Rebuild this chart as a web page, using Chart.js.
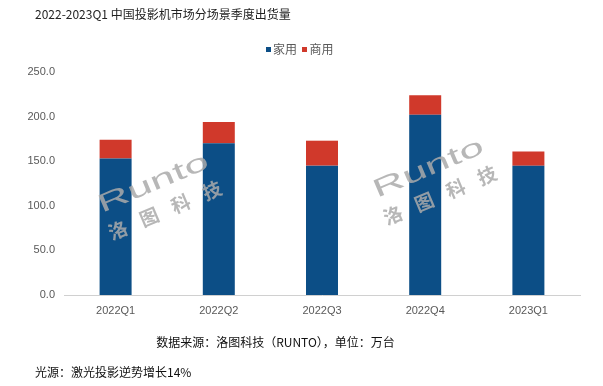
<!DOCTYPE html>
<html>
<head>
<meta charset="utf-8">
<script src="https://cdn.jsdelivr.net/npm/chart.js@4/dist/chart.umd.min.js"></script>
<style>
  html, body { margin: 0; padding: 0; background: #ffffff; }
  #wrap { position: relative; width: 603px; height: 386px; overflow: hidden; }
  #c { position: absolute; left: 0; top: 0; }
  .txt { position: absolute; font-family: "Noto Sans CJK SC", "DejaVu Sans", sans-serif; white-space: nowrap; line-height: 1; }
  #title { left: 35px; top: 8px; font-size: 12px; color: #222; }
  #legend { left: 266px; top: 43px; font-size: 12px; color: #595959; }
  #legend span.sw { display: inline-block; width: 5px; height: 5px; margin-right: 2px; vertical-align: 2px; }
  #src { left: 0; width: 551px; text-align: center; top: 336px; font-size: 12px; color: #111; }
  #foot { left: 35px; top: 366px; font-size: 12px; color: #111; }
</style>
</head>
<body>
<div id="wrap">
  <canvas id="c" width="603" height="386"></canvas>
  <div class="txt" id="title">2022-2023Q1 中国投影机市场分场景季度出货量</div>
  <div class="txt" id="legend"><span class="sw" style="background:#0C4E86"></span>家用&nbsp;&nbsp;<span class="sw" style="background:#D0392B"></span>商用</div>
  <div class="txt" id="src">数据来源：洛图科技（RUNTO），单位：万台</div>
  <div class="txt" id="foot">光源：激光投影逆势增长14%</div>
</div>
<script>
const categories = ["2022Q1", "2022Q2", "2022Q3", "2022Q4", "2023Q1"];
const homeUse = [153, 170, 145, 202, 145];
const commercialUse = [21, 24, 28, 22, 16];
const seriesNames = ["家用", "商用"];
const yTicks = [0, 50, 100, 150, 200, 250];

const watermark = {
  id: 'watermark',
  afterDatasetsDraw(chart) {
    const ctx = chart.ctx;
    const draw = (x, y) => {
      ctx.save();
      ctx.translate(x, y);
      ctx.rotate(-0.4);
      ctx.fillStyle = 'rgba(170,170,170,0.85)';
      ctx.font = '300 34px "Liberation Sans", sans-serif';
      ctx.textBaseline = 'alphabetic';
      ctx.textAlign = 'left';
      const w = ctx.measureText('Runto').width;
      ctx.save();
      ctx.scale(118 / w, 0.75);
      ctx.fillText('Runto', 0, 0);
      ctx.restore();
      ctx.font = 'bold 19px "Noto Sans CJK SC", sans-serif';
      ctx.textAlign = 'center';
      ctx.textBaseline = 'middle';
      const chars = ['洛', '图', '科', '技'];
      chars.forEach((ch, i) => ctx.fillText(ch, 8 + i * 34, 22));
      ctx.restore();
    };
    draw(102, 213);
    draw(377, 198);
  }
};

new Chart(document.getElementById('c'), {
  type: 'bar',
  data: {
    labels: categories,
    datasets: [
      { label: seriesNames[0], data: homeUse, backgroundColor: '#0C4E86', borderWidth: 0 },
      { label: seriesNames[1], data: commercialUse, backgroundColor: '#D0392B', borderWidth: 0 }
    ]
  },
  options: {
    responsive: false,
    animation: false,
    devicePixelRatio: 1,
    layout: { padding: { left: 0, right: 23, top: 72, bottom: 61 } },
    plugins: { legend: { display: false }, tooltip: { enabled: false }, title: { display: false } },
    datasets: { bar: { barPercentage: 0.62, categoryPercentage: 0.5 } },
    scales: {
      x: {
        stacked: true,
        grid: { display: false, drawTicks: false },
        border: { display: true, color: '#d0d0d0', width: 1 },
        ticks: { color: '#595959', font: { size: 11, family: '"Liberation Sans", sans-serif' }, padding: 9, maxRotation: 0 },
        afterFit(s) { s.height = 30; }
      },
      y: {
        stacked: true,
        min: 0, max: 250,
        afterBuildTicks(s) { s.ticks = yTicks.map(v => ({ value: v })); },
        grid: { display: false, drawTicks: false },
        border: { display: false },
        ticks: { color: '#595959', font: { size: 11, family: '"Liberation Sans", sans-serif' }, padding: 9,
                 callback: v => Number(v).toFixed(1) },
        afterFit(s) { s.width = 64; }
      }
    }
  },
  plugins: [watermark]
});
</script>
</body>
</html>
